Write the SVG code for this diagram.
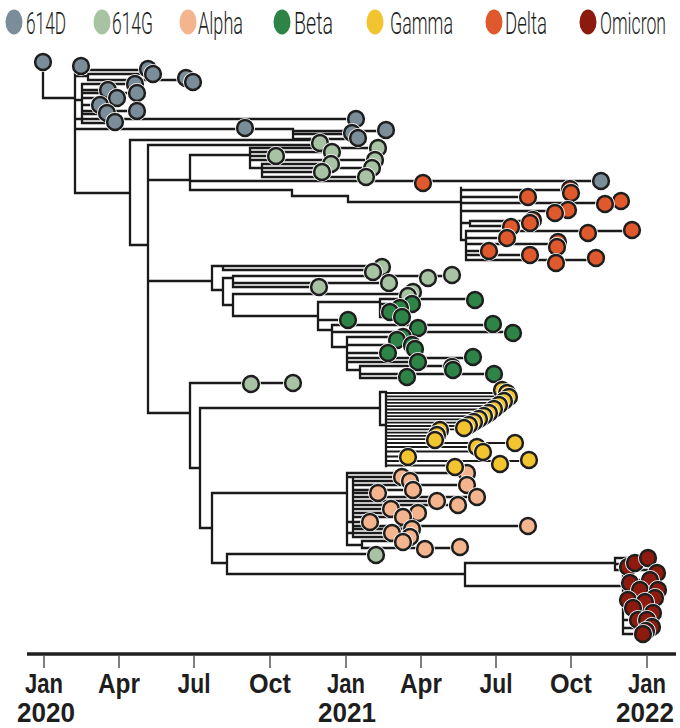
<svg xmlns="http://www.w3.org/2000/svg" xmlns:xlink="http://www.w3.org/1999/xlink" width="680" height="728" viewBox="0 0 680 728">
<style>
.branch{fill:none;stroke:#1a1a1a;stroke-width:2.3;stroke-linecap:square}
.thin{fill:none;stroke:#1a1a1a;stroke-width:1.8;stroke-linecap:square}
.leg{font-family:Roboto,"Liberation Sans",sans-serif;font-weight:300;font-size:32px;fill:#1e1e1e}
.ax{font-family:"Liberation Sans",Arial,sans-serif;font-weight:bold;font-size:28px;fill:#1e1e1e;text-anchor:middle}
.tick{stroke:#555;stroke-width:1.5}
.c614d{fill:#7b8d99}.c614g{fill:#a8c2a4}.calpha{fill:#f3b48e}.cbeta{fill:#2d8446}.cgamma{fill:#f2c530}.cdelta{fill:#e0592c}.comicron{fill:#8c1a0e}
</style>
<defs>
<g id="dot"><circle r="10" fill="#fff"/><circle r="7.9" stroke="#1e1e1e" stroke-width="2.5"/></g>
</defs>
<rect width="680" height="728" fill="#fff"/>
<g id="legend">
<ellipse class="c614d" cx="14" cy="22" rx="8.5" ry="12.5"/><text class="leg" transform="translate(26,34) scale(0.6,1)" textLength="66.7" lengthAdjust="spacingAndGlyphs">614D</text>
<ellipse class="c614g" cx="102" cy="22" rx="8.5" ry="12.5"/><text class="leg" transform="translate(112,34) scale(0.6,1)" textLength="68.3" lengthAdjust="spacingAndGlyphs">614G</text>
<ellipse class="calpha" cx="188" cy="22" rx="8.5" ry="12.5"/><text class="leg" transform="translate(198,34) scale(0.6,1)" textLength="75" lengthAdjust="spacingAndGlyphs">Alpha</text>
<ellipse class="cbeta" cx="282" cy="22" rx="8.5" ry="12.5"/><text class="leg" transform="translate(294,34) scale(0.6,1)" textLength="65" lengthAdjust="spacingAndGlyphs">Beta</text>
<ellipse class="cgamma" cx="375" cy="22" rx="8.5" ry="12.5"/><text class="leg" transform="translate(390,34) scale(0.6,1)" textLength="105" lengthAdjust="spacingAndGlyphs">Gamma</text>
<ellipse class="cdelta" cx="494" cy="22" rx="8.5" ry="12.5"/><text class="leg" transform="translate(505,34) scale(0.6,1)" textLength="70" lengthAdjust="spacingAndGlyphs">Delta</text>
<ellipse class="comicron" cx="588" cy="22" rx="8.5" ry="12.5"/><text class="leg" transform="translate(600,34) scale(0.6,1)" textLength="110" lengthAdjust="spacingAndGlyphs">Omicron</text>
</g>
<g id="connectors">
<path class="branch" d="
M43,62 V98 H75 M75,66 V193 M75,66 H81
M75,70 H148 M75,76 H88 M88,74 V80 M88,74 H153 M88,80 H193
M75,100 H82 M82,84 V123 M82,84 H135 M82,90 H108 M82,93 H137 M82,98 H117 M82,105 H100 M82,111 H137 M82,114 H107 M82,123 H115
M75,119 H356
M75,129 H293 M293,129 V139 M293,131 H386 M293,134 H352 M293,139 H358
M75,193 H130 M130,140 V245 M130,140 H318 M130,245 H148
M148,145 V413 M148,145 H318
M148,180 H190 M190,155 V190
M190,155 H250 M250,148 V168 M250,148 H378 M250,152 H332 M250,156 H276 M250,160 H375
M250,168 H262 M262,164 V177 M262,164 H331 M262,168 H372 M262,172 H322 M262,177 H366
M190,181 H601
M190,190 H292 M292,190 V196 M292,196 H348 M348,196 V202 M348,202 H461
M461,188 V240 M461,190 H570 M461,197 H528 M461,203 H621 M461,211 H568
M461,223 H470 M470,221 V226 M470,221 H533 M470,226 H511
M461,240 H466 M466,231 V260 M466,231 H632 M466,238 H507 M466,244 H558 M466,251 H489 M466,255 H530 M466,260 H596
M148,281 H212 M212,266 V290
M212,266 H223 M223,266 V270 M223,266 H382 M223,270 H373
M212,290 H223 M223,278 V305
M223,278 H233 M233,276 V287 M233,276 H452 M233,283 H389 M233,287 H319
M223,305 H233 M233,294 V316 M233,294 H413
M233,316 H318 M318,302 V330
M318,302 H380 M380,299 V317 M380,299 H475 M380,304 H412 M380,308 H400 M380,312 H390 M380,317 H402
M318,320 H348
M318,330 H332 M332,325 V347 M332,325 H493 M332,332 H513
M332,347 H347 M347,337 V370 M347,337 H403 M347,345 H415 M347,353 H388 M347,358 H473 M347,362 H418
M347,370 H360 M360,366 V378 M360,366 H453 M360,374 H494 M360,378 H407
M148,413 H190 M190,383 V468 M190,383 H293
M190,468 H200 M200,408 V528 M200,408 H380
M380,392 V425 M380,425 H386 M380,392 H386 M386,392 V466
M200,528 H212 M212,493 V563 M212,493 H347 M347,473 V545
M347,473 H467 M347,477 H353 M353,477 V537
M353,477 H402 M353,481 H410 M353,485 H467 M353,490 H413 M353,493 H378 M353,497 H477 M353,501 H437 M353,505 H458 M353,509 H391 M353,513 H418 M353,517 H403
M347,522 H370 M353,526 H528 M353,529 H412 M347,533 H392 M353,537 H410
M347,545 H362 M362,541 V548 M362,541 H403 M362,548 H460
M212,563 H227 M227,554 V574 M227,554 H376
M227,574 H465 M465,563 V586
M465,563 H615 M615,558 V570 M615,558 H640 M615,564 H628 M615,570 H650
M465,586 H623 M623,576 V634 M623,580 H650 M623,590 H640 M623,600 H655 M623,610 H633 M623,620 H647 M623,628 H648 M623,634 H643
"/>
<path class="thin" d="
M386,393 H507 M386,396.3 H509 M386,399.6 H505 M386,402.9 H500 M386,406.2 H496 M386,409.5 H492 M386,412.8 H488 M386,416.1 H484 M386,419.4 H479 M386,422.7 H474 M386,426 H467 M386,429.3 H461 M386,432.6 H441 M386,435.9 H438 M386,439.2 H435
M386,443 H516 M386,447 H478 M386,451.5 H483 M386,456.5 H408 M386,461 H529 M386,465.5 H455
"/>
</g>
<g id="clade-614D" class="c614d">
<use href="#dot" x="43" y="62"/><use href="#dot" x="81" y="66"/>
<use href="#dot" x="148" y="69"/><use href="#dot" x="153" y="74"/><use href="#dot" x="186" y="78"/><use href="#dot" x="193" y="82"/>
<use href="#dot" x="135" y="84"/><use href="#dot" x="137" y="93"/><use href="#dot" x="137" y="111"/>
<use href="#dot" x="108" y="90"/><use href="#dot" x="117" y="98"/><use href="#dot" x="100" y="105"/><use href="#dot" x="107" y="113"/><use href="#dot" x="115" y="122"/>
<use href="#dot" x="245" y="128"/><use href="#dot" x="356" y="119"/><use href="#dot" x="352" y="133"/><use href="#dot" x="358" y="138"/><use href="#dot" x="386" y="130"/>
<use href="#dot" x="601" y="181"/>
</g>
<g id="clade-614G" class="c614g">
<use href="#dot" x="320" y="143"/><use href="#dot" x="332" y="152"/><use href="#dot" x="331" y="164"/><use href="#dot" x="322" y="172"/><use href="#dot" x="276" y="156"/>
<use href="#dot" x="378" y="148"/><use href="#dot" x="375" y="160"/><use href="#dot" x="372" y="168"/><use href="#dot" x="366" y="177"/>
<use href="#dot" x="382" y="267"/><use href="#dot" x="373" y="272"/><use href="#dot" x="389" y="283"/><use href="#dot" x="428" y="278"/><use href="#dot" x="452" y="275"/><use href="#dot" x="319" y="287"/><use href="#dot" x="413" y="292"/><use href="#dot" x="408" y="296"/>
<use href="#dot" x="251" y="384"/><use href="#dot" x="293" y="383"/><use href="#dot" x="376" y="555"/>
</g>
<g id="clade-delta" class="cdelta">
<use href="#dot" x="423" y="183"/><use href="#dot" x="570" y="189"/><use href="#dot" x="571" y="193"/><use href="#dot" x="528" y="197"/><use href="#dot" x="621" y="201"/><use href="#dot" x="605" y="204"/>
<use href="#dot" x="568" y="210"/><use href="#dot" x="555" y="213"/><use href="#dot" x="533" y="220"/><use href="#dot" x="530" y="223"/><use href="#dot" x="511" y="227"/><use href="#dot" x="632" y="230"/><use href="#dot" x="588" y="233"/>
<use href="#dot" x="507" y="238"/><use href="#dot" x="558" y="242"/><use href="#dot" x="557" y="247"/><use href="#dot" x="489" y="251"/><use href="#dot" x="530" y="255"/><use href="#dot" x="596" y="258"/><use href="#dot" x="556" y="263"/>
</g>
<g id="clade-beta" class="cbeta">
<use href="#dot" x="475" y="300"/><use href="#dot" x="412" y="304"/><use href="#dot" x="400" y="308"/><use href="#dot" x="390" y="312"/><use href="#dot" x="402" y="317"/><use href="#dot" x="348" y="320"/>
<use href="#dot" x="418" y="328"/><use href="#dot" x="493" y="324"/><use href="#dot" x="513" y="333"/><use href="#dot" x="403" y="337"/><use href="#dot" x="397" y="340"/><use href="#dot" x="412" y="345"/><use href="#dot" x="415" y="349"/>
<use href="#dot" x="388" y="353"/><use href="#dot" x="473" y="357"/><use href="#dot" x="418" y="362"/><use href="#dot" x="452" y="367"/><use href="#dot" x="453" y="370"/><use href="#dot" x="494" y="374"/><use href="#dot" x="407" y="377"/>
</g>
<g id="clade-alpha" class="calpha">
<use href="#dot" x="467" y="473"/><use href="#dot" x="402" y="477"/><use href="#dot" x="410" y="481"/><use href="#dot" x="467" y="485"/><use href="#dot" x="413" y="490"/><use href="#dot" x="378" y="493"/><use href="#dot" x="477" y="497"/>
<use href="#dot" x="437" y="501"/><use href="#dot" x="458" y="505"/><use href="#dot" x="391" y="509"/><use href="#dot" x="418" y="513"/><use href="#dot" x="403" y="517"/><use href="#dot" x="370" y="522"/><use href="#dot" x="528" y="526"/>
<use href="#dot" x="412" y="529"/><use href="#dot" x="392" y="533"/><use href="#dot" x="410" y="537"/><use href="#dot" x="403" y="542"/><use href="#dot" x="460" y="547"/><use href="#dot" x="425" y="549"/>
</g>
<g id="clade-gamma" class="cgamma">
<use href="#dot" x="502" y="390"/><use href="#dot" x="507" y="393"/><use href="#dot" x="509" y="397"/><use href="#dot" x="504" y="401"/><use href="#dot" x="499" y="405"/><use href="#dot" x="494" y="409"/>
<use href="#dot" x="489" y="413"/><use href="#dot" x="484" y="416"/><use href="#dot" x="479" y="419"/><use href="#dot" x="474" y="422"/><use href="#dot" x="469" y="425"/><use href="#dot" x="464" y="428"/>
<use href="#dot" x="440" y="430"/><use href="#dot" x="437" y="435"/><use href="#dot" x="435" y="440"/><use href="#dot" x="515" y="443"/><use href="#dot" x="477" y="447"/><use href="#dot" x="483" y="452"/>
<use href="#dot" x="408" y="457"/><use href="#dot" x="529" y="460"/><use href="#dot" x="500" y="464"/><use href="#dot" x="455" y="467"/>
</g>
<g id="clade-omicron" class="comicron">
<use href="#dot" x="628" y="567"/><use href="#dot" x="635" y="563"/><use href="#dot" x="648" y="558"/><use href="#dot" x="657" y="573"/><use href="#dot" x="650" y="580"/><use href="#dot" x="630" y="583"/>
<use href="#dot" x="640" y="590"/><use href="#dot" x="658" y="590"/><use href="#dot" x="655" y="598"/><use href="#dot" x="628" y="600"/><use href="#dot" x="645" y="602"/><use href="#dot" x="633" y="608"/>
<use href="#dot" x="653" y="613"/><use href="#dot" x="638" y="620"/><use href="#dot" x="647" y="620"/><use href="#dot" x="652" y="627"/><use href="#dot" x="646" y="631"/><use href="#dot" x="643" y="634"/>
</g>
<g id="axis">
<path d="M27,654 H676" stroke="#1e1e1e" stroke-width="3.5"/>
<path class="tick" d="M44,656 V668 M119,656 V668 M194,656 V668 M270,656 V668 M346,656 V668 M421,656 V668 M496,656 V668 M571,656 V668 M647,656 V668"/>
<text class="ax" x="44" y="693" textLength="38" lengthAdjust="spacingAndGlyphs">Jan</text>
<text class="ax" x="119" y="693" textLength="42" lengthAdjust="spacingAndGlyphs">Apr</text>
<text class="ax" x="194" y="693" textLength="33" lengthAdjust="spacingAndGlyphs">Jul</text>
<text class="ax" x="270" y="693" textLength="42" lengthAdjust="spacingAndGlyphs">Oct</text>
<text class="ax" x="346" y="693" textLength="38" lengthAdjust="spacingAndGlyphs">Jan</text>
<text class="ax" x="421" y="693" textLength="42" lengthAdjust="spacingAndGlyphs">Apr</text>
<text class="ax" x="496" y="693" textLength="33" lengthAdjust="spacingAndGlyphs">Jul</text>
<text class="ax" x="571" y="693" textLength="42" lengthAdjust="spacingAndGlyphs">Oct</text>
<text class="ax" x="647" y="693" textLength="38" lengthAdjust="spacingAndGlyphs">Jan</text>
<text class="ax" x="46" y="722" textLength="58" lengthAdjust="spacingAndGlyphs">2020</text>
<text class="ax" x="347" y="722" textLength="58" lengthAdjust="spacingAndGlyphs">2021</text>
<text class="ax" x="645" y="722" textLength="58" lengthAdjust="spacingAndGlyphs">2022</text>
</g>
</svg>
